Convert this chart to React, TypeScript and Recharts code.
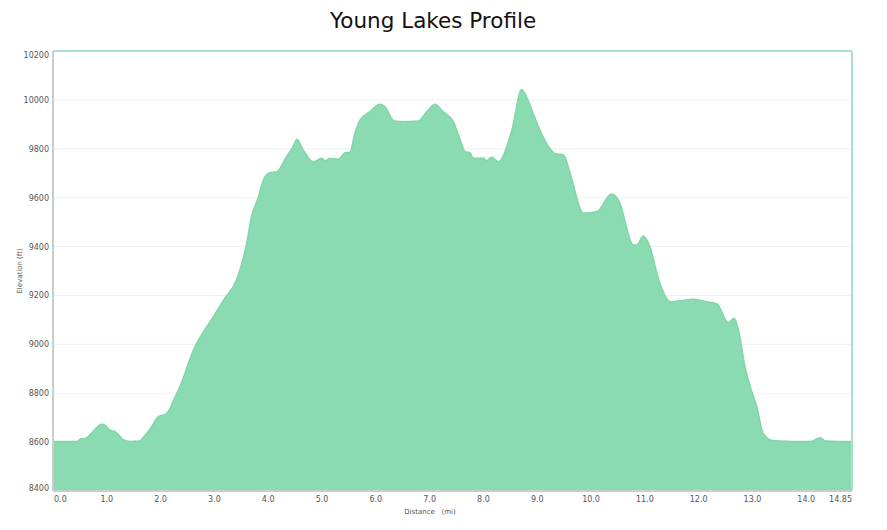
import { Area, AreaChart, CartesianGrid, ReferenceLine, XAxis, YAxis } from 'recharts'

// distance along the trail (mi)
const distance = [
  0.0, 0.45, 0.52, 0.61, 0.75, 0.9, 0.97, 1.05, 1.15, 1.22, 1.3, 1.43, 1.61, 1.7, 1.8, 1.95,
  2.11, 2.17, 2.25, 2.36, 2.61, 2.98, 3.17, 3.41, 3.51, 3.6, 3.69, 3.82, 3.91, 4.03, 4.16,
  4.34, 4.47, 4.53, 4.65, 4.84, 4.99, 5.06, 5.15, 5.3, 5.43, 5.52, 5.61, 5.71, 5.89, 6.07,
  6.17, 6.33, 6.51, 6.79, 6.95, 7.1, 7.25, 7.44, 7.57, 7.66, 7.75, 7.81, 8.0, 8.06, 8.15,
  8.28, 8.53, 8.71, 8.77, 8.9, 9.05, 9.21, 9.33, 9.49, 9.61, 9.86, 10.11, 10.38, 10.51,
  10.79, 10.85, 10.97, 11.07, 11.28, 11.47, 11.65, 11.9, 12.15, 12.34, 12.55, 12.66, 12.74,
  12.86, 12.96, 13.08, 13.2, 13.39, 14.07, 14.26, 14.35, 14.85,
]

// elevation (ft)
const elevation = [
  8602, 8603, 8614, 8616, 8645, 8673, 8668, 8650, 8643, 8630, 8610, 8603, 8605, 8625, 8652, 8702,
  8717, 8735, 8775, 8827, 8977, 9113, 9181, 9263, 9331, 9413, 9522, 9604, 9672, 9702, 9706,
  9768, 9812, 9839, 9795, 9747, 9761, 9751, 9761, 9757, 9784, 9786, 9863, 9918, 9952, 9982,
  9972, 9915, 9911, 9914, 9952, 9982, 9952, 9911, 9836, 9788, 9784, 9761, 9761, 9751, 9765,
  9747, 9877, 10043, 10027, 9959, 9877, 9809, 9781, 9775, 9700, 9536, 9543, 9615, 9590,
  9406, 9406, 9443, 9413, 9250, 9174, 9178, 9184, 9174, 9165, 9089, 9107, 9059,
  8909, 8827, 8745, 8636, 8606, 8602, 8618, 8605, 8602,
]

const xTicks = [0, 1, 2, 3, 4, 5, 6, 7, 8, 9, 10, 11, 12, 13, 14, 14.85]
const yTicks = [8400, 8600, 8800, 9000, 9200, 9400, 9600, 9800, 10000, 10200]

const data = distance.map((d, i) => ({ d, elev: elevation[i] }))

const tickFont = { fontFamily: 'DejaVu Sans, sans-serif', fontSize: 8, fill: '#555' }

function DistanceTick(props: any) {
  const { x, y, payload, index } = props
  const last = index === xTicks.length - 1
  const label = last ? '14.85' : payload.value.toFixed(1)
  const anchor = index === 0 ? 'start' : last ? 'end' : 'middle'
  return (
    <text x={x + (index === 0 ? 1 : 0)} y={y} dy={8} textAnchor={anchor} {...tickFont}>
      {label}
    </text>
  )
}

// end labels are pushed inside the plot, like the original
function ElevationTick(props: any) {
  const { x, y, payload, index } = props
  const shift = index === 0 ? -3 : index === yTicks.length - 1 ? 4 : 0
  return (
    <text x={x} y={y + shift} dy={3} textAnchor='end' {...tickFont}>
      {payload.value}
    </text>
  )
}

export default function App() {
  return (
    <div style={{ position: 'absolute', left: 0, top: 0, width: 887, height: 530, background: '#fff' }}>
      <div
        style={{
          position: 'absolute',
          left: 330,
          top: 8,
          width: 200,
          textAlign: 'center',
          whiteSpace: 'nowrap',
          fontFamily: 'DejaVu Sans, sans-serif',
          fontSize: 21.5,
          color: '#111',
        }}
      >
        Young Lakes Profile
      </div>
      <AreaChart
        width={887}
        height={530}
        data={data}
        margin={{ top: 51, right: 35, left: 0, bottom: 0 }}
      >
        <CartesianGrid vertical={false} stroke='#f0f0f0' />
        <XAxis
          dataKey='d'
          type='number'
          domain={[0, 14.85]}
          ticks={xTicks}
          height={39}
          tickLine={false}
          tickSize={0}
          tickMargin={3}
          axisLine={{ stroke: '#cccccc', strokeWidth: 2 }}
          tick={<DistanceTick />}
          interval={0}
        />
        <YAxis
          domain={[8400, 10200]}
          ticks={yTicks}
          width={53}
          tickLine={false}
          tickSize={0}
          tickMargin={4}
          axisLine={{ stroke: '#cccccc', strokeWidth: 2 }}
          tick={<ElevationTick />}
          interval={0}
        />
        <ReferenceLine y={10200} stroke='#a8e2c8' strokeWidth={2} />
        <ReferenceLine x={14.85} stroke='#a8e2c8' strokeWidth={2} />
        <Area
          type='monotone'
          dataKey='elev'
          stroke='#80d6a9'
          strokeWidth={1.5}
          fill='#8adbb1'
          fillOpacity={1}
          isAnimationActive={false}
        />
        <text
          x={20}
          y={271}
          transform='rotate(-90 20 271)'
          textAnchor='middle'
          dominantBaseline='middle'
          fontFamily='DejaVu Sans, sans-serif'
          fontSize={7}
          fill='#555'
        >
          Elevation (ft)
        </text>
        <text
          x={430}
          y={514}
          textAnchor='middle'
          fontFamily='DejaVu Sans, sans-serif'
          fontSize={7}
          fill='#555'
          style={{ whiteSpace: 'pre' }}
        >
          {'Distance   (mi)'}
        </text>
      </AreaChart>
    </div>
  )
}
